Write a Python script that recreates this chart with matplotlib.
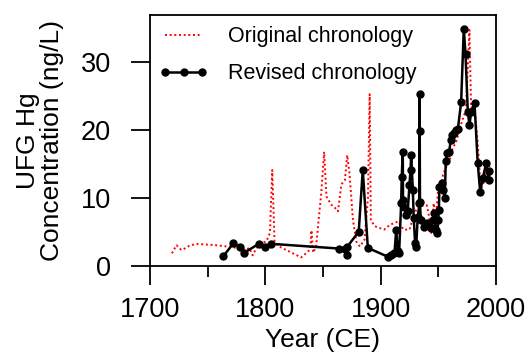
import numpy as np
import matplotlib.pyplot as plt
from matplotlib.ticker import MultipleLocator

plt.rcParams['font.family'] = ['Liberation Sans', 'DejaVu Sans']

# Original age model
orig_year = [1719, 1723, 1727, 1730, 1734, 1740, 1757, 1772, 1783, 1786, 1789, 1792,
             1796, 1801, 1804, 1806, 1808, 1812, 1818, 1831, 1836, 1839, 1840, 1841.5,
             1844, 1848.5, 1851, 1853, 1857, 1860, 1863, 1866, 1869, 1871, 1873, 1876,
             1879, 1882, 1886, 1889, 1890.5, 1891.5, 1895, 1903, 1908, 1915, 1920, 1925,
             1929, 1932, 1940, 1942, 1944, 1946, 1948, 1950, 1953, 1954, 1957, 1960,
             1962, 1966, 1969, 1974, 1977, 1978.5, 1981, 1984, 1987, 1990, 1993, 1996]
orig_hg = [1.8, 3.0, 2.3, 2.5, 2.9, 3.2, 3.0, 2.7, 2.3, 2.6, 1.5, 2.5,
           3.2, 3.6, 4.8, 14.1, 3.5, 2.8, 2.3, 1.2, 1.9, 2.4, 5.2, 1.9,
           2.8, 10.7, 16.8, 10.2, 9.0, 8.6, 8.0, 12.0, 12.6, 16.3, 13.6, 6.7,
           3.5, 2.8, 3.8, 10.0, 25.3, 6.7, 5.8, 5.3, 6.0, 6.5, 5.3, 5.3,
           7.5, 8.7, 8.9, 7.2, 4.8, 9.2, 7.0, 11.6, 10.9, 13.4, 14.6, 15.6,
           17.1, 18.5, 20.5, 23.0, 34.8, 23.0, 24.0, 18.5, 11.2, 12.6, 15.1, 14.1]

# Revised age model
rev_year = [1763.7, 1772.4, 1778.2, 1781.9, 1794.3, 1799.3, 1805.1, 1864.3, 1869,
            1870.5, 1871.2, 1881, 1884.5, 1888.9, 1906.2, 1909.1, 1912, 1913.5, 1914.9,
            1916, 1917.8, 1918.3, 1919.2, 1919.4, 1920.5, 1922, 1923.5, 1925, 1925.9,
            1926.5, 1927.9, 1928.7, 1929.9, 1930.8, 1932.2, 1933.7, 1933.8, 1933.9,
            1934.1, 1934.8, 1937.7, 1940.6, 1943.5, 1945, 1946.4, 1947.8, 1949.3,
            1949.9, 1950.5, 1951, 1952.8, 1954.5, 1955.6, 1956.5, 1957.5, 1959.4,
            1960.8, 1962.3, 1963.8, 1965.2, 1967, 1969.8, 1972.1, 1973.6, 1975.6,
            1977, 1978.5, 1981.4, 1984.2, 1986.3, 1988.6, 1991.5, 1993.8, 1994.4]
rev_hg = [1.4, 3.3, 2.7, 1.9, 3.2, 2.7, 3.2, 2.5, 2.5,
          1.5, 2.8, 5.0, 14.1, 2.6, 1.3, 1.6, 1.8, 5.3, 2.1,
          1.8, 9.2, 13.1, 16.8, 9.7, 8.7, 7.5, 8.0, 11.9, 14.1,
          16.3, 11.2, 7.0, 3.3, 2.8, 7.2, 9.2, 25.4, 19.8,
          9.4, 6.7, 5.75, 6.3, 5.5, 6.7, 7.7, 5.3, 4.8,
          6.7, 8.2, 11.6, 12.2, 11.2, 9.9, 15.5, 16.6, 16.8,
          18.5, 19.3, 19.5, 20.0, 20.2, 24.1, 35.0, 31.2, 22.7,
          20.7, 22.7, 24.0, 15.1, 10.9, 12.9, 15.1, 12.6, 13.9]

fig = plt.figure(figsize=(5.31, 3.54), dpi=100)
ax = fig.add_axes([0.2825, 0.25, 0.6515, 0.7076])

ax.plot(orig_year, orig_hg, color='red', linestyle=(0, (1, 1.4)), lw=1.4,
        label='Original chronology')
ax.plot(rev_year, rev_hg, color='black', lw=1.8, marker='o', ms=5,
        label='Revised chronology')

ax.set_xlim(1700, 2000)
ax.set_ylim(0, 37)
ax.xaxis.set_major_locator(MultipleLocator(100))
ax.xaxis.set_minor_locator(MultipleLocator(50))
ax.yaxis.set_major_locator(MultipleLocator(10))

for s in ax.spines.values():
    s.set_linewidth(1.3)
ax.tick_params(which='major', direction='out', length=14, width=1.3, labelsize=19.5)
ax.tick_params(which='minor', direction='out', length=8, width=1.3)
ax.tick_params(axis='x', pad=9)
ax.tick_params(axis='y', pad=14)

ax.set_xlabel('Year (CE)', fontsize=19)
ax.set_ylabel('UFG Hg\nConcentration (ng/L)', fontsize=19, linespacing=0.95)
ax.xaxis.set_label_coords(0.5, -0.25)
ax.yaxis.set_label_coords(-0.25, 0.5)

ax.legend(loc='upper left', bbox_to_anchor=(0.026, 0.955), frameon=False,
          fontsize=15.5, numpoints=3, handlelength=2.3, handletextpad=0.9,
          labelspacing=0.75, borderpad=0, borderaxespad=0)

fig.savefig('out.png', dpi=100)
